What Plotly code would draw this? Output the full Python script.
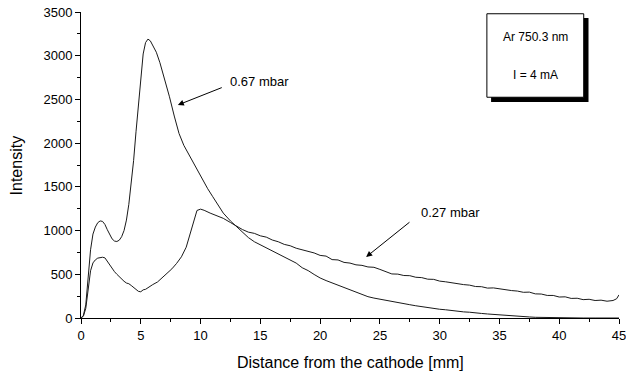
import plotly.graph_objects as go

# 0.67 mbar curve
x_067 = [0, 0.2, 0.4, 0.6, 0.8, 1.0, 1.2, 1.4, 1.6, 1.8, 2.0, 2.2, 2.4, 2.6, 2.8, 3.0, 3.2, 3.4, 3.6, 3.8,
         4.0, 4.2, 4.4, 4.6, 4.8, 5.0, 5.2, 5.4, 5.6, 5.8, 6.0, 6.3, 6.6, 7.0, 7.4, 7.8, 8.2, 8.6, 9.0, 9.4,
         9.8, 10.2, 10.6, 11.0, 11.5, 11.9, 12.5, 13.0, 13.5, 14.0, 14.5, 15.0, 15.5, 16.0, 16.5, 17.0, 17.5,
         18.0, 18.5, 19.0, 19.5, 20.0, 20.5, 21.0, 21.5, 22.0, 22.5, 23.0, 23.5, 24.0, 24.5, 25.0, 25.5, 26.0,
         26.5, 27.0, 27.5, 28.0, 28.5, 29.0, 29.5, 30.0, 30.5, 31.0, 31.5, 32.0, 32.5, 33.0, 33.5, 34.0, 34.5,
         35.0, 35.5, 36.0, 36.5, 37.0, 37.5, 38.0, 38.5, 39.0, 39.5, 40.0, 41.0, 42.0, 43.0, 44.0, 45.0]
y_067 = [0, 30, 150, 450, 780, 960, 1040, 1090, 1110, 1105, 1070, 1010, 950, 905, 880, 875, 890, 930, 1000, 1120,
         1300, 1520, 1800, 2130, 2460, 2780, 3020, 3150, 3190, 3170, 3120, 3040, 2920, 2730, 2530, 2310, 2110, 1975, 1875, 1770,
         1672, 1572, 1478, 1392, 1290, 1200, 1110, 1045, 975, 920, 872, 838, 800, 772, 735, 705, 668,
         628, 575, 542, 498, 458, 428, 402, 372, 348, 318, 296, 268, 244, 228, 214, 200, 186,
         176, 160, 152, 140, 128, 120, 108, 100, 94, 84, 78, 70, 66, 56, 52, 46, 40,
         36, 30, 26, 20, 16, 12, 8, 6, 4, 2, 0, 0, 0, 0, 0, 0]

# 0.27 mbar curve
x_027 = [0, 0.2, 0.4, 0.6, 0.8, 1.0, 1.2, 1.4, 1.6, 1.8, 2.0, 2.2, 2.4, 2.6, 2.8, 3.0, 3.2, 3.4, 3.6, 3.8,
         4.0, 4.2, 4.4, 4.6, 4.8, 5.0, 5.2, 5.4, 5.6, 5.8, 6.0, 6.4, 6.8, 7.2, 7.6, 8.0, 8.4, 8.8, 9.1, 9.4,
         9.7, 10.0, 10.3, 10.8, 11.3, 11.9, 12.5, 13.0, 13.5, 14.0, 14.5, 15.0, 15.5, 16.0, 16.5, 17.0, 17.5,
         18.0, 18.5, 19.0, 19.5, 20.0, 20.5, 21.0, 21.5, 22.0, 22.5, 23.0, 23.5, 24.0, 24.5, 25.0, 25.5, 26.0,
         26.5, 27.0, 27.5, 28.0, 28.5, 29.0, 29.5, 30.0, 30.5, 31.0, 31.5, 32.0, 32.5, 33.0, 33.5, 34.0, 34.5,
         35.0, 35.5, 36.0, 36.5, 37.0, 37.5, 38.0, 38.5, 39.0, 39.5, 40.0, 40.5, 41.0, 41.5, 42.0, 42.5, 43.0,
         43.5, 44.0, 44.5, 44.8, 45.0]
y_027 = [0, 20, 110, 330, 540, 630, 665, 685, 690, 695, 688, 650, 600, 560, 530, 500, 470, 440, 420, 400,
         392, 372, 352, 322, 305, 300, 322, 328, 348, 358, 382, 412, 462, 508, 562, 625, 700, 810, 950, 1120,
         1230, 1245, 1232, 1200, 1172, 1140, 1092, 1048, 1012, 982, 968, 940, 925, 892, 872, 842, 826,
         798, 780, 756, 744, 716, 708, 668, 664, 636, 628, 608, 602, 584, 580, 556, 534, 504,
         502, 486, 484, 466, 462, 444, 442, 422, 414, 402, 398, 382, 376, 360, 358, 342, 344,
         332, 328, 314, 308, 294, 296, 276, 274, 258, 258, 240, 242, 224, 226, 210, 214, 200,
         204, 192, 200, 220, 265]

fig = go.Figure()
line_style = dict(color="#1a1a1a", width=1)
fig.add_trace(go.Scatter(x=x_067, y=y_067, mode="lines", line=line_style, showlegend=False))
fig.add_trace(go.Scatter(x=x_027, y=y_027, mode="lines", line=line_style, showlegend=False))

font = "Liberation Sans, Arial, sans-serif"

axis_common = dict(
    showline=True, linecolor="black", linewidth=1, mirror=False,
    ticks="outside", ticklen=5, tickwidth=1, tickcolor="black",
    showgrid=False, zeroline=False, ticklabeloverflow="allow", automargin=False,
    tickfont=dict(family=font, size=13, color="black"),
)

fig.update_xaxes(range=[0, 45], tick0=0, dtick=5,
                 minor=dict(ticks="outside", ticklen=3, dtick=2.5, tickcolor="black", showgrid=False),
                 **axis_common)
fig.update_yaxes(range=[0, 3500], tick0=0, dtick=500,
                 minor=dict(ticks="outside", ticklen=3, dtick=250, tickcolor="black", showgrid=False),
                 **axis_common)

annotations = [
    dict(text="Intensity", xref="paper", yref="paper", x=-0.12, y=0.5, textangle=-90,
         showarrow=False, font=dict(family=font, size=16, color="black"), xanchor="center", yanchor="middle"),
    dict(text="Distance from the cathode [mm]", xref="paper", yref="paper", x=0.5, y=-0.145,
         showarrow=False, font=dict(family=font, size=16, color="black"), xanchor="center", yanchor="middle"),
    # arrows
    dict(x=8.1, y=2436, ax=11.9, ay=2642, xref="x", yref="y", axref="x", ayref="y", text="",
         showarrow=True, arrowhead=2, arrowsize=1.2, arrowwidth=1, arrowcolor="black"),
    dict(text="0.67 mbar", x=12.3, y=2700, xref="x", yref="y", showarrow=False, xanchor="left",
         yanchor="middle", font=dict(family=font, size=13, color="black")),
    dict(x=23.85, y=698, ax=27.6, ay=1109, xref="x", yref="y", axref="x", ayref="y", text="",
         showarrow=True, arrowhead=2, arrowsize=1.2, arrowwidth=1, arrowcolor="black"),
    dict(text="0.27 mbar", x=28.3, y=1212, xref="x", yref="y", showarrow=False, xanchor="left",
         yanchor="middle", font=dict(family=font, size=13, color="black")),
    # box texts
    dict(text="Ar 750.3 nm", x=38.0, y=3210, xref="x", yref="y", showarrow=False, xanchor="center",
         yanchor="middle", font=dict(family=font, size=12, color="black")),
    dict(text="I = 4 mA", x=38.0, y=2780, xref="x", yref="y", showarrow=False, xanchor="center",
         yanchor="middle", font=dict(family=font, size=12, color="black")),
]

shapes = [
    dict(type="rect", xref="x", yref="y", x0=34.3, x1=42.45, y0=2470, y1=3430,
         fillcolor="black", line=dict(width=0), layer="above"),
    dict(type="rect", xref="x", yref="y", x0=33.95, x1=42.05, y0=2525, y1=3480,
         fillcolor="white", line=dict(color="black", width=1), layer="above"),
]

fig.update_layout(
    width=626, height=378,
    margin=dict(l=81, r=7, t=12, b=60),
    plot_bgcolor="white", paper_bgcolor="white",
    annotations=annotations, shapes=shapes,
    font=dict(family=font, color="black"),
)

fig.write_html("out.html")
